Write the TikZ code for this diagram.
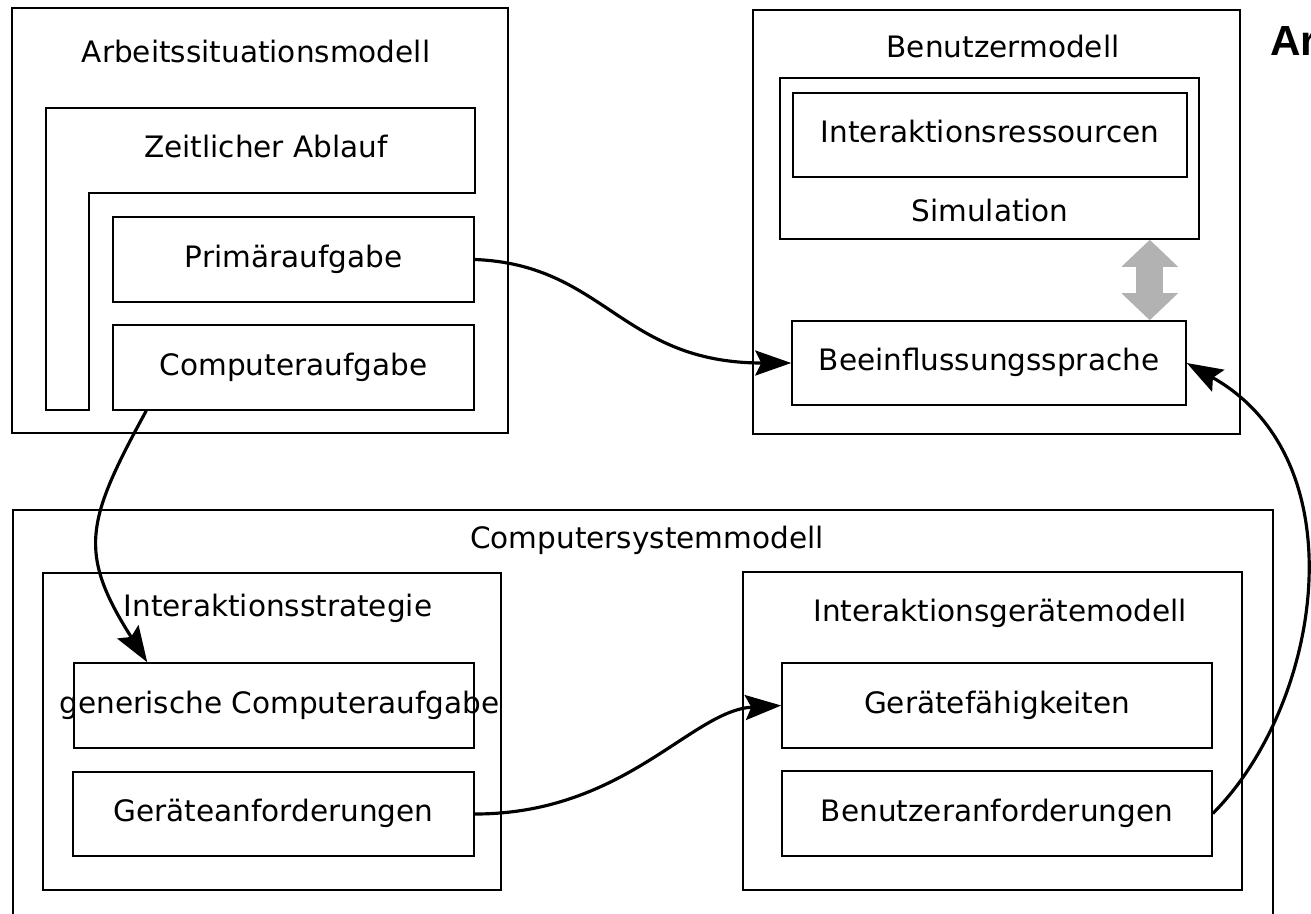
\documentclass[tikz,border=0pt]{standalone}
\usepackage{fontspec}
\setmainfont{DejaVu Sans}
\newfontfamily\arfont{Liberation Sans}
\usetikzlibrary{arrows.meta,positioning}
\newcommand\lbl{\fontsize{16.8}{20}\selectfont}

\begin{document}
\begin{tikzpicture}[x=0.02cm, y=-0.02cm
    , box/.style={draw, line width=0.9pt, inner sep=0pt, font=\lbl, text height=12.8pt, text depth=3.9pt}
    , title/.style={inner sep=0pt, font=\lbl, text height=12.8pt, text depth=3.9pt}
    , flow/.style={line width=1.8pt, -{Stealth[length=0.72cm, width=0.5cm, inset=0.12cm]}}
]
    \useasboundingbox (0,0) rectangle (1311,913);

    % Arbeitssituationsmodell
    \node[box, minimum width=9.92cm, minimum height=8.5cm] (arbeit) at (260,220.5) {};
    \node[title] (arbeittitle) at (256,55) {Arbeitssituationsmodell};
    \draw[line width=0.9pt] (46,108) -- (475,108) -- (475,193) -- (89,193) -- (89,410) -- (46,410) -- cycle;
    \node[title] (zeit) at (266,150) {Zeitlicher Ablauf};
    \node[box, minimum width=7.22cm, minimum height=1.7cm] (primaer) at (293.5,259.5) {Primäraufgabe};
    \node[box, minimum width=7.22cm, minimum height=1.7cm] (compaufg) at (293.5,367.5) {Computeraufgabe};

    % Benutzermodell
    \node[box, minimum width=9.74cm, minimum height=8.48cm] (benutzer) at (996.5,222) {};
    \node[title] (benutzertitle) at (1003,50) {Benutzermodell};
    \node[box, minimum width=8.38cm, minimum height=3.22cm] (simulation) at (989.5,158.5) {};
    \node[title] (simtitle) at (990,214) {Simulation};
    \node[box, minimum width=7.88cm, minimum height=1.68cm] (ressourcen) at (990,135) {Interaktionsressourcen};
    \node[box, minimum width=7.88cm, minimum height=1.68cm] (beeinfl) at (989,363) {Beeinflussungssprache};

    \node[anchor=base west, inner sep=0pt, font={\arfont\bfseries\fontsize{24}{28}\selectfont}] (ar) at (1270,55) {Ar};

    % Computersystemmodell
    \node[box, minimum width=25.2cm, minimum height=8.6cm] (compsys) at (643,725) {};
    \node[title] (compsystitle) at (647,541) {Computersystemmodell};
    \node[box, minimum width=9.16cm, minimum height=6.34cm] (strategie) at (272,731.5) {};
    \node[title] (strategietitle) at (278,609) {Interaktionsstrategie};
    \node[box, minimum width=8cm, minimum height=1.7cm] (generisch) at (274,705.5)
        {\makebox[0pt]{\hspace{0.22cm}generische Computeraufgabe}};
    \node[box, minimum width=8.02cm, minimum height=1.68cm] (geraeteanf) at (273.5,814) {Geräteanforderungen};
    \node[box, minimum width=9.98cm, minimum height=6.36cm] (geraetemodell) at (992.5,731) {};
    \node[title] (geraetetitle) at (1000,614) {Interaktionsgerätemodell};
    \node[box, minimum width=8.6cm, minimum height=1.7cm] (faehig) at (997,705.5) {Gerätefähigkeiten};
    \node[box, minimum width=8.6cm, minimum height=1.7cm] (benutzeranf) at (997,813.5) {Benutzeranforderungen};

    % Verbindungen
    \draw[black!30, line width=0.54cm, {Triangle[width=1.1cm,length=0.54cm]}-{Triangle[width=1.1cm,length=0.54cm]}]
        ([xshift=-1cm]simulation.south east) -- ([xshift=-1cm]simulation.south east |- beeinfl.north);
    \draw[flow] (primaer.east) .. controls +(130,5) and +(-170,0) .. (beeinfl.west);
    \draw[flow] ([xshift=0.68cm]compaufg.south west) .. controls +(-60,110) and +(-70,-110) .. ([xshift=1.48cm]generisch.north west);
    \draw[flow] (geraeteanf.east) .. controls +(150,0) and +(-90,5) .. (faehig.west);
    \draw[flow] (benutzeranf.east) .. controls +(108,-108) and +(174,98) .. (beeinfl.east);

\end{tikzpicture}
\end{document}
